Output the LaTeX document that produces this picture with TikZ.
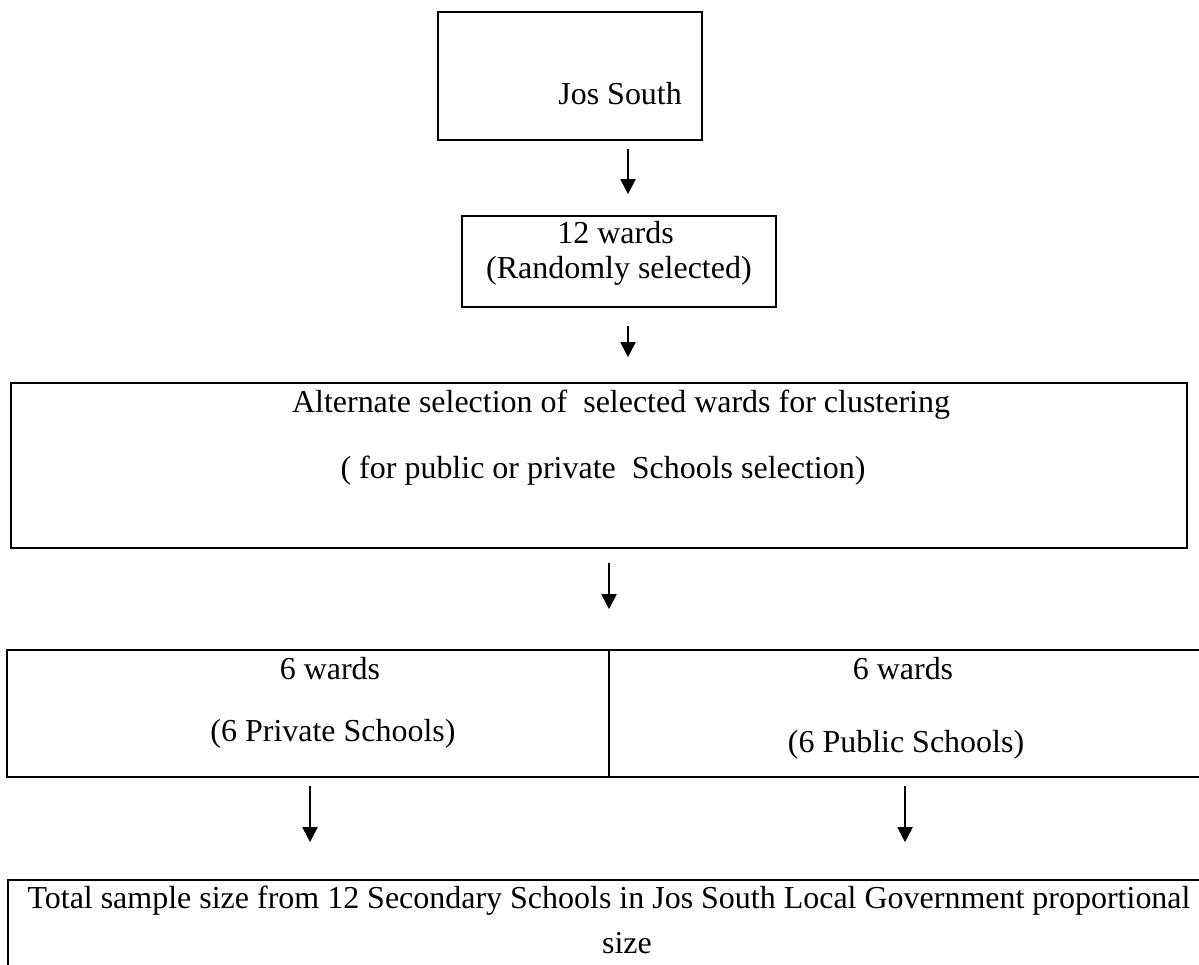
\documentclass[tikz,border=0pt]{standalone}
\usepackage{fontspec}
\setmainfont{Liberation Serif}
\usetikzlibrary{arrows.meta,fit}
\begin{document}
\begin{tikzpicture}[x=0.02cm,y=-0.02cm,
  box/.style={draw, line width=0.95pt, inner sep=0pt},
  txt/.style={font=\fontsize{18.2}{21}\selectfont, inner sep=0pt},
  arr/.style={-{Triangle[width=0.3cm,length=0.3cm]}, line width=1.1pt}]
\useasboundingbox (0,0) rectangle (1199,964);
\clip (0,0) rectangle (1199,964);
% boxes
\node[box, fit={(438,12) (702,140)}] (b1) {};
\node[box, fit={(462,216) (776,307)}] (b2) {};
\node[box, fit={(11,383) (1187,548)}] (b3) {};
\node[box, fit={(7,650) (609,777)}] (b4l) {};
\node[box, fit={(609,650) (1240,777)}] (b4r) {};
\node[box, fit={(8,880) (1240,1010)}] (b5) {};
% texts
\node[txt, anchor=base west] (t1) at (558,104) {Jos South};
\node[txt, anchor=base west] (t2a) at (557,243) {12 wards};
\node[txt, anchor=base east] (t2b) at (752,278) {(Randomly selected)};
\node[txt, anchor=base] (t3a) at (621,412) {Alternate selection of~ selected wards for clustering};
\node[txt, anchor=base] (t3b) at (603,478) {( for public or private~ Schools selection)};
\node[txt, anchor=base] (t4a) at (330,679) {6 wards};
\node[txt, anchor=base] (t4b) at (333,741) {(6 Private Schools)};
\node[txt, anchor=base] (t4c) at (903,679) {6 wards};
\node[txt, anchor=base] (t4d) at (906,752) {(6 Public Schools)};
\node[txt, anchor=base] (t5a) at (609,908) {Total sample size from 12 Secondary Schools in Jos South Local Government proportional};
\node[txt, anchor=base] (t5b) at (627,953) {size};
% arrows
\coordinate (a1) at (628,0);
\coordinate (a3) at (609,0);
\coordinate (a4) at (310,0);
\coordinate (a5) at (905,0);
\draw[arr, shorten <=0.16cm, shorten >=0.42cm] (b1.south -| a1) -- (b2.north -| a1);
\draw[arr, shorten <=0.36cm, shorten >=0.5cm] (b2.south -| a1) -- (b3.north -| a1);
\draw[arr, shorten <=0.28cm, shorten >=0.8cm] (b3.south -| a3) -- (b4l.north -| a3);
\draw[arr, shorten <=0.16cm, shorten >=0.74cm] (b4l.south -| a4) -- (b5.north -| a4);
\draw[arr, shorten <=0.16cm, shorten >=0.74cm] (b4r.south -| a5) -- (b5.north -| a5);
\end{tikzpicture}
\end{document}
